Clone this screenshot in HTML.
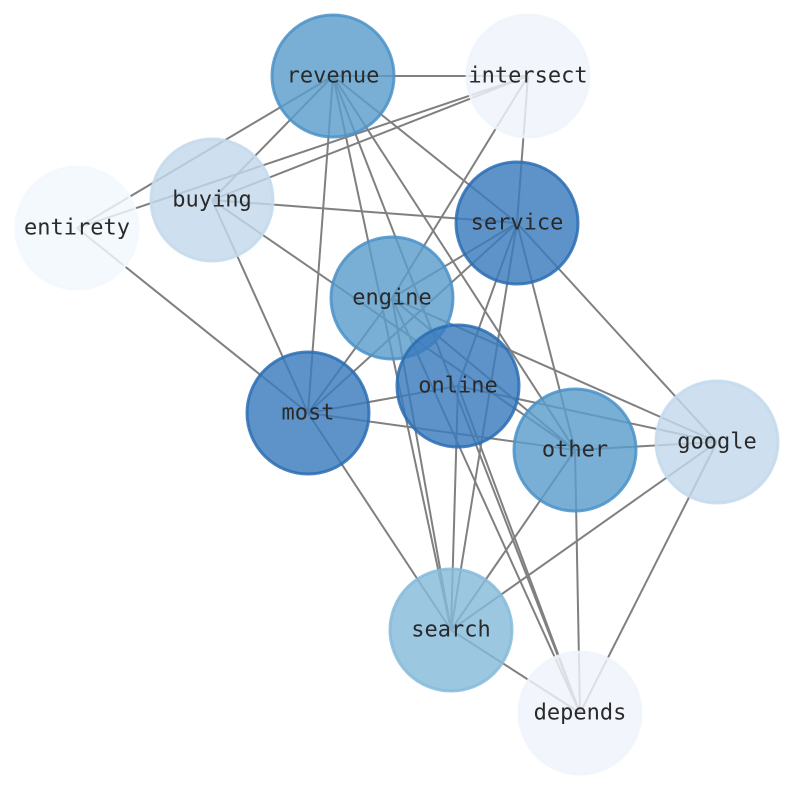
<!DOCTYPE html>
<html><head><meta charset="utf-8"><style>
html,body{margin:0;padding:0;background:#fff;}
svg{display:block}
text{font-family:"DejaVu Sans Mono","Liberation Mono",monospace;font-size:22px;fill:#2a2a2a;text-anchor:middle;dominant-baseline:central}
</style></head><body>
<svg width="794" height="790" viewBox="0 0 794 790">
<g stroke="#808080" stroke-width="2" fill="none">
<line x1="333" y1="76" x2="528" y2="76"/>
<line x1="333" y1="76" x2="77" y2="228"/>
<line x1="333" y1="76" x2="212" y2="200"/>
<line x1="333" y1="76" x2="308" y2="413"/>
<line x1="333" y1="76" x2="517" y2="223"/>
<line x1="333" y1="76" x2="451" y2="630"/>
<line x1="333" y1="76" x2="575" y2="450"/>
<line x1="333" y1="76" x2="580" y2="713"/>
<line x1="528" y1="76" x2="77" y2="228"/>
<line x1="528" y1="76" x2="212" y2="200"/>
<line x1="528" y1="76" x2="392" y2="298"/>
<line x1="528" y1="76" x2="517" y2="223"/>
<line x1="212" y1="200" x2="517" y2="223"/>
<line x1="212" y1="200" x2="308" y2="413"/>
<line x1="212" y1="200" x2="575" y2="450"/>
<line x1="77" y1="228" x2="308" y2="413"/>
<line x1="517" y1="223" x2="392" y2="298"/>
<line x1="517" y1="223" x2="308" y2="413"/>
<line x1="517" y1="223" x2="451" y2="630"/>
<line x1="517" y1="223" x2="575" y2="450"/>
<line x1="517" y1="223" x2="717" y2="442"/>
<line x1="517" y1="223" x2="458" y2="386"/>
<line x1="392" y1="298" x2="308" y2="413"/>
<line x1="392" y1="298" x2="575" y2="450"/>
<line x1="392" y1="298" x2="717" y2="442"/>
<line x1="392" y1="298" x2="580" y2="713"/>
<line x1="392" y1="298" x2="451" y2="630"/>
<line x1="458" y1="386" x2="308" y2="413"/>
<line x1="458" y1="386" x2="451" y2="630"/>
<line x1="458" y1="386" x2="580" y2="713"/>
<line x1="458" y1="386" x2="717" y2="442"/>
<line x1="308" y1="413" x2="575" y2="450"/>
<line x1="308" y1="413" x2="451" y2="630"/>
<line x1="575" y1="450" x2="717" y2="442"/>
<line x1="575" y1="450" x2="451" y2="630"/>
<line x1="575" y1="450" x2="580" y2="713"/>
<line x1="717" y1="442" x2="451" y2="630"/>
<line x1="717" y1="442" x2="580" y2="713"/>
<line x1="451" y1="630" x2="580" y2="713"/>
</g>
<g stroke-width="3" fill-opacity="0.82" stroke-opacity="0.85">
<circle cx="333" cy="76" r="61" fill="#5b9dcc" stroke="#4a92c8"/>
<circle cx="528" cy="76" r="61" fill="#eff4fb" stroke="#eff4fb"/>
<circle cx="212" cy="200" r="61" fill="#c3d9ec" stroke="#c3d9ec"/>
<circle cx="77" cy="228" r="61" fill="#f2f8fe" stroke="#f2f8fe"/>
<circle cx="517" cy="223" r="61" fill="#3a7bbd" stroke="#2a6db3"/>
<circle cx="392" cy="298" r="61" fill="#5b9dcc" stroke="#4a92c8"/>
<circle cx="458" cy="386" r="61" fill="#3a7bbd" stroke="#2a6db3"/>
<circle cx="308" cy="413" r="61" fill="#3a7bbd" stroke="#2a6db3"/>
<circle cx="575" cy="450" r="61" fill="#5b9dcc" stroke="#4a92c8"/>
<circle cx="717" cy="442" r="61" fill="#c3d9ec" stroke="#c3d9ec"/>
<circle cx="451" cy="630" r="61" fill="#86bbdb" stroke="#86bbdb"/>
<circle cx="580" cy="713" r="61" fill="#eff4fb" stroke="#eff4fb"/>
</g>
<text x="333" y="76">revenue</text>
<text x="528" y="76">intersect</text>
<text x="212" y="200">buying</text>
<text x="77" y="228">entirety</text>
<text x="517" y="223">service</text>
<text x="392" y="298">engine</text>
<text x="458" y="386">online</text>
<text x="308" y="413">most</text>
<text x="575" y="450">other</text>
<text x="717" y="442">google</text>
<text x="451" y="630">search</text>
<text x="580" y="713">depends</text>
</svg>
</body></html>
